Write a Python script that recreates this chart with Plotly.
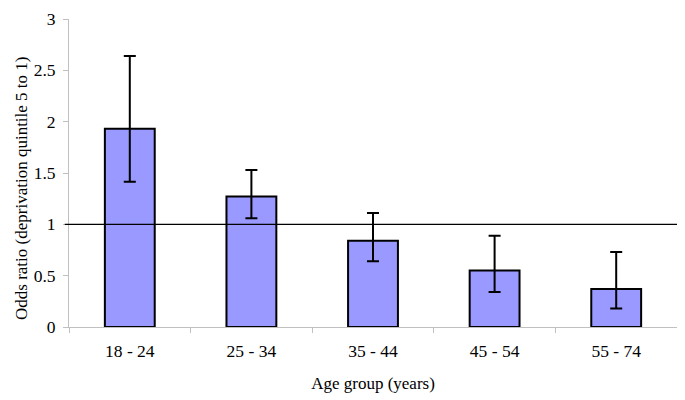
import plotly.graph_objects as go

categories = ["18 - 24", "25 - 34", "35 - 44", "45 - 54", "55 - 74"]
odds_ratio = [1.93, 1.27, 0.84, 0.55, 0.37]
ci_lower = [1.415, 1.06, 0.64, 0.34, 0.18]
ci_upper = [2.64, 1.53, 1.11, 0.89, 0.73]
reference_value = 1
y_ticks = [0, 0.5, 1, 1.5, 2, 2.5, 3]
y_tick_labels = ["0", "0.5", "1", "1.5", "2", "2.5", "3"]
x_title = "Age group (years)"
y_title = "Odds ratio (deprivation quintile 5 to 1)"

err_plus = [u - v for u, v in zip(ci_upper, odds_ratio)]
err_minus = [v - l for v, l in zip(odds_ratio, ci_lower)]

FONT = "Liberation Serif"
AXIS_GRAY = "#c0c0c0"

fig = go.Figure()
fig.add_trace(go.Bar(
    x=categories,
    y=odds_ratio,
    marker=dict(color="#9999ff", line=dict(color="black", width=2)),
    error_y=dict(type="data", symmetric=False, array=err_plus, arrayminus=err_minus,
                 color="black", thickness=2, width=6),
    width=0.41,
    showlegend=False,
))

fig.add_shape(type="line", xref="paper", yref="y",
              x0=-0.007, x1=1.006, y0=reference_value, y1=reference_value,
              line=dict(color="black", width=1.2), layer="above")

fig.add_annotation(text=y_title, xref="paper", yref="paper",
                   x=-0.078, y=0.45, xanchor="center", yanchor="middle",
                   textangle=-90, showarrow=False,
                   font=dict(family=FONT, size=17, color="black"))

fig.update_layout(
    width=677, height=392,
    margin=dict(l=61, r=8, t=11, b=73, autoexpand=False),
    plot_bgcolor="white", paper_bgcolor="white",
    font=dict(family=FONT, size=17, color="black"),
    xaxis=dict(
        type="category",
        automargin=False,
        tickson="boundaries",
        ticks="outside", ticklen=5, tickcolor=AXIS_GRAY, tickwidth=1,
        showline=True, linecolor=AXIS_GRAY, linewidth=1,
        showgrid=False, zeroline=False,
        tickfont=dict(family=FONT, size=17.5, color="black"),
        ticklabelstandoff=8,
        title=dict(text=x_title, font=dict(family=FONT, size=17, color="black"), standoff=17),
    ),
    yaxis=dict(
        range=[0, 3],
        automargin=False,
        tickvals=y_ticks, ticktext=y_tick_labels,
        ticks="outside", ticklen=5, tickcolor=AXIS_GRAY, tickwidth=1,
        showline=True, linecolor=AXIS_GRAY, linewidth=1,
        showgrid=False, zeroline=False,
        tickfont=dict(family=FONT, size=17.5, color="black"),
        ticklabelstandoff=4,
        ticklabeloverflow="allow",
    ),
)

fig.write_html("out.html")
